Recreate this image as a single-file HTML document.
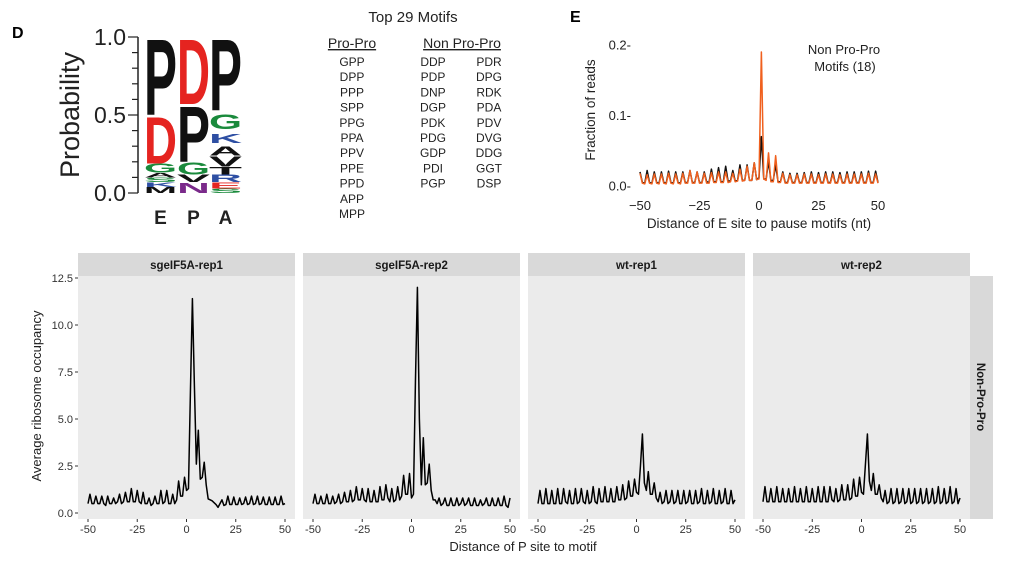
<!DOCTYPE html>
<html><head><meta charset="utf-8"><style>
body{margin:0;background:#fff}
svg{display:block;font-family:"Liberation Sans",sans-serif}
</style></head><body>
<svg id="fig" width="1016" height="569" viewBox="0 0 1016 569">
<text x="12" y="38" font-size="16" font-weight="bold">D</text>
<g id="logo"></g>
<g font-size="12" text-anchor="middle" fill="#222">
<text x="413" y="22" font-size="15">Top 29 Motifs</text>
<text x="352" y="48" font-size="14" text-decoration="underline">Pro-Pro</text>
<text x="462" y="48" font-size="14" text-decoration="underline">Non Pro-Pro</text>
<g id="motifs"></g>
</g>
<text x="570" y="22" font-size="16" font-weight="bold">E</text>
<g id="panelE"></g>
<g id="facets"></g>
</svg>
<script>
const NS='http://www.w3.org/2000/svg';
function mk(parent,tag,attrs,txt){const e=document.createElementNS(NS,tag);for(const k in attrs)e.setAttribute(k,attrs[k]);if(txt!==undefined)e.textContent=txt;parent.appendChild(e);return e;}

const xVals=[];for(let i=-50;i<=50;i++)xVals.push(i);
const facetNames=['sgeIF5A-rep1','sgeIF5A-rep2','wt-rep1','wt-rep2'];
const yTicks=[0,2.5,5,7.5,10,12.5];
const yTickLabels=['0.0','2.5','5.0','7.5','10.0','12.5'];
const xTicks=[-50,-25,0,25,50];
const rep1=[0.5,1.0,0.5,0.5,0.9,0.5,0.5,0.9,0.5,0.4,0.9,0.5,0.5,0.8,0.5,0.6,1.0,0.5,0.6,1.1,0.6,0.6,1.3,0.6,0.6,1.2,0.6,0.5,1.1,0.5,0.5,0.8,0.4,0.5,0.9,0.5,0.5,1.2,0.5,0.6,1.2,0.5,0.5,1.0,0.5,0.7,1.7,0.9,0.9,1.9,1.2,
1.3,6.5,11.4,6.8,2.6,4.4,1.8,1.9,2.7,1.5,0.75,0.7,0.65,0.55,0.45,0.3,0.5,0.7,0.4,0.45,0.9,0.45,0.45,0.85,0.45,0.45,0.8,0.45,0.5,0.85,0.45,0.5,0.9,0.45,0.5,0.9,0.45,0.5,0.85,0.45,0.45,0.85,0.45,0.45,0.85,0.45,0.45,0.9,0.45,0.5];
const rep2=[0.5,1.0,0.5,0.5,0.9,0.5,0.5,1.0,0.5,0.5,0.9,0.5,0.6,1.0,0.5,0.6,1.1,0.6,0.6,1.2,0.6,0.7,1.4,0.7,0.7,1.3,0.7,0.6,1.3,0.6,0.6,1.2,0.6,0.6,1.4,0.7,0.7,1.5,0.8,0.6,1.3,0.6,0.7,1.4,0.7,0.9,2.0,1.0,1.0,2.1,0.8,
1.0,7.0,12.0,5.0,1.5,4.0,1.5,1.6,2.6,1.2,0.7,0.7,0.5,0.8,0.4,0.5,0.8,0.4,0.4,0.8,0.4,0.4,0.8,0.4,0.5,0.8,0.4,0.5,0.8,0.4,0.4,0.8,0.4,0.4,0.7,0.4,0.5,0.8,0.4,0.4,0.8,0.4,0.4,0.8,0.4,0.4,0.9,0.4,0.3,0.8];
const wt1=[0.5,1.2,0.5,0.5,1.3,0.5,0.5,1.2,0.5,0.5,1.3,0.5,0.5,1.3,0.6,0.5,1.2,0.5,0.5,1.3,0.5,0.6,1.3,0.6,0.5,1.2,0.5,0.6,1.4,0.6,0.5,1.3,0.6,0.6,1.4,0.6,0.6,1.3,0.6,0.6,1.4,0.7,0.7,1.5,0.7,0.8,1.7,0.9,0.9,1.8,1.1,
1.0,2.5,4.2,1.6,1.2,2.2,1.0,1.0,1.6,0.8,0.6,1.1,0.5,0.6,1.2,0.5,0.6,1.2,0.5,0.6,1.2,0.5,0.5,1.2,0.5,0.6,1.2,0.5,0.5,1.2,0.5,0.6,1.3,0.5,0.5,1.2,0.5,0.6,1.3,0.5,0.5,1.2,0.5,0.6,1.3,0.5,0.5,1.2,0.5,0.7];
const wt2=[0.6,1.4,0.6,0.6,1.3,0.6,0.6,1.4,0.6,0.6,1.3,0.6,0.6,1.3,0.6,0.6,1.4,0.6,0.6,1.3,0.6,0.6,1.4,0.6,0.6,1.3,0.6,0.6,1.4,0.6,0.6,1.4,0.6,0.6,1.4,0.7,0.6,1.3,0.6,0.7,1.5,0.7,0.7,1.5,0.7,0.8,1.8,0.9,0.9,1.9,1.1,
1.0,2.6,4.2,1.7,1.2,2.1,1.0,1.0,1.5,0.8,0.6,1.2,0.5,0.6,1.3,0.5,0.6,1.3,0.5,0.6,1.3,0.5,0.6,1.3,0.5,0.6,1.3,0.5,0.6,1.3,0.5,0.6,1.3,0.5,0.6,1.3,0.5,0.6,1.4,0.5,0.6,1.3,0.5,0.6,1.4,0.5,0.6,1.3,0.5,0.8];
const facetSeries=[rep1,rep2,wt1,wt2];

const eTicksY=[0,0.1,0.2];
const eTickLabelsY=['0.0-','0.1-','0.2-'];
const eTicksX=[-50,-25,0,25,50];
const eBlack=[0.02,0.005,0.004,0.022,0.005,0.004,0.02,0.005,0.004,0.02,0.005,0.004,0.021,0.005,0.004,0.02,0.005,0.004,0.02,0.005,0.005,0.022,0.005,0.005,0.02,0.005,0.005,0.02,0.006,0.005,0.024,0.006,0.006,0.026,0.006,0.006,0.028,0.007,0.007,0.022,0.007,0.008,0.03,0.008,0.008,0.03,0.008,0.008,0.033,0.009,0.012,
0.07,0.01,0.01,0.035,0.008,0.008,0.03,0.006,0.006,0.02,0.005,0.005,0.018,0.005,0.005,0.018,0.005,0.005,0.019,0.005,0.005,0.02,0.005,0.005,0.019,0.005,0.005,0.02,0.005,0.005,0.02,0.005,0.005,0.019,0.005,0.005,0.02,0.005,0.005,0.02,0.005,0.005,0.02,0.005,0.005,0.021,0.005,0.005,0.021,0.005];
const eOrange=[0.018,0.004,0.003,0.016,0.004,0.003,0.017,0.004,0.003,0.017,0.004,0.003,0.018,0.004,0.003,0.017,0.004,0.003,0.018,0.004,0.004,0.022,0.004,0.004,0.02,0.004,0.004,0.018,0.004,0.004,0.019,0.005,0.005,0.02,0.005,0.005,0.02,0.005,0.006,0.018,0.006,0.007,0.024,0.007,0.008,0.028,0.008,0.008,0.033,0.009,0.01,
0.19,0.01,0.008,0.047,0.006,0.006,0.043,0.005,0.005,0.018,0.004,0.004,0.016,0.004,0.004,0.016,0.004,0.004,0.017,0.004,0.004,0.017,0.004,0.004,0.016,0.004,0.004,0.017,0.004,0.004,0.017,0.004,0.004,0.016,0.004,0.004,0.017,0.004,0.004,0.017,0.004,0.004,0.017,0.004,0.004,0.018,0.004,0.004,0.017,0.004];

const logoCols=['E','P','A'];
const logoE=[['P',0.5,1.0,'#111'],['D',0.19,0.5,'#e52420'],['G',0.13,0.19,'#1a8a3c'],['A',0.1,0.13,'#111'],['S',0.07,0.1,'#1a8a3c'],['K',0.04,0.07,'#2e4fa3'],['M',0.0,0.04,'#111']];
const logoP=[['D',0.57,1.0,'#e52420'],['P',0.2,0.57,'#111'],['G',0.12,0.2,'#1a8a3c'],['V',0.07,0.12,'#111'],['N',0.0,0.07,'#7a2a8a']];
const logoA=[['P',0.53,1.0,'#111'],['G',0.41,0.51,'#1a8a3c'],['K',0.32,0.38,'#2e4fa3'],['A',0.24,0.3,'#111'],['V',0.17,0.24,'#111'],['T',0.12,0.17,'#111'],['R',0.07,0.12,'#2e4fa3'],['E',0.03,0.07,'#e52420'],['S',0.0,0.03,'#1a8a3c']];
(function(){
  const g=document.getElementById('logo');
  const y0=193,y1=37; const ly=v=>y0+(y1-y0)*v;
  mk(g,'line',{x1:138,y1:37,x2:138,y2:193,stroke:'#222','stroke-width':1.5});
  for(let i=0;i<=10;i++){const yy=ly(i/10);mk(g,'line',{x1:i%5==0?128:132,y1:yy,x2:138,y2:yy,stroke:'#222','stroke-width':1.2});}
  [['0.0',0],['0.5',0.5],['1.0',1]].forEach(t=>{const e=mk(g,'text',{x:126,y:ly(t[1])+8,'font-size':23,'text-anchor':'end',fill:'#222'},t[0]);});
  const yt=mk(g,'text',{x:0,y:0,'font-size':27,'text-anchor':'middle',fill:'#222',transform:'translate(79,115) rotate(-90)'},'Probability');
  
  const stacks=[logoE,logoP,logoA]; const colX=[144,177,209]; const colW=33;
  stacks.forEach((st,ci)=>{
    st.forEach(l=>{
      const top=ly(l[2]),bot=ly(l[1]),h=bot-top;
      const t=mk(g,'text',{x:0,y:0,'font-size':100,'font-weight':'bold',fill:l[3],textLength:66,lengthAdjust:'spacingAndGlyphs',
        transform:`translate(${colX[ci]},${bot}) scale(${colW/66},${h/72})`},l[0]);
      
    });
    const c=mk(g,'text',{x:colX[ci]+colW/2,y:224,'font-size':19,'font-weight':'bold','text-anchor':'middle',fill:'#222'},logoCols[ci]);
    
  });
})();

const proPro=['GPP','DPP','PPP','SPP','PPG','PPA','PPV','PPE','PPD','APP','MPP'];
const nonPro1=['DDP','PDP','DNP','DGP','PDK','PDG','GDP','PDI','PGP'];
const nonPro2=['PDR','DPG','RDK','PDA','PDV','DVG','DDG','GGT','DSP'];
(function(){
  const g=document.getElementById('motifs');
  [[proPro,352],[nonPro1,433],[nonPro2,489]].forEach(c=>{
    c[0].forEach((m,i)=>{const t=mk(g,'text',{x:c[1],y:66+i*15.2},m);});
  });
})();

(function(){
  const g=document.getElementById('panelE');
  const sx=v=>640+(v+50)*(238/100); const sy=v=>186-v*705;
  eTicksY.forEach((v,i)=>{const t=mk(g,'text',{x:631,y:sy(v)+4.5,'font-size':13,'text-anchor':'end',fill:'#222'},eTickLabelsY[i]);});
  eTicksX.forEach(v=>{const t=mk(g,'text',{x:sx(v),y:210,'font-size':13,'text-anchor':'middle',fill:'#222'},v<0?'\u2212'+(-v):String(v));});
  const yt=mk(g,'text',{x:0,y:0,'font-size':13.5,'text-anchor':'middle',fill:'#222',transform:'translate(595,110) rotate(-90)'},'Fraction of  reads');
  
  const xt=mk(g,'text',{x:759,y:228,'font-size':13.5,'text-anchor':'middle',fill:'#222'},'Distance of E site to pause motifs (nt)');
  
  [[eBlack,'#111','e-line-black'],[eOrange,'#f0601e','e-line-orange']].forEach(s=>{
    const d=s[0].map((v,i)=>(i?'L':'M')+sx(xVals[i]).toFixed(2)+','+sy(v).toFixed(2)).join('');
    const p=mk(g,'path',{d:d,fill:'none',stroke:s[1],'stroke-width':1.5,'stroke-linejoin':'round'});
    
  });
  const l1=mk(g,'text',{x:844,y:54,'font-size':13,'text-anchor':'middle',fill:'#222'},'Non Pro-Pro');
  const l2=mk(g,'text',{x:845,y:71,'font-size':13,'text-anchor':'middle',fill:'#222'},'Motifs (18)');
})();

(function(){
  const g=document.getElementById('facets');
  const panelX=[78,303,528,753],pw=217,top=276,bot=519;
  const sy=v=>513-v*18.8;
  facetSeries.forEach((ser,fi)=>{
    const x0=panelX[fi];const sx=v=>x0+10+(v+50)*1.97;
    const bg=mk(g,'rect',{x:x0,y:top,width:pw,height:bot-top,fill:'#ebebeb'});
    const st=mk(g,'rect',{x:x0,y:253,width:pw,height:23,fill:'#d9d9d9'});
    const stt=mk(g,'text',{x:x0+pw/2,y:269,'font-size':11.5,'font-weight':'bold','text-anchor':'middle',fill:'#1a1a1a'},facetNames[fi]);
    
    xTicks.forEach(v=>{mk(g,'line',{x1:sx(v),y1:bot,x2:sx(v),y2:bot+3,stroke:'#333'});
      const t=mk(g,'text',{x:sx(v),y:bot+14,'font-size':11,'text-anchor':'middle',fill:'#333'},String(v));});
    const d=ser.map((v,i)=>(i?'L':'M')+sx(xVals[i]).toFixed(2)+','+sy(v).toFixed(2)).join('');
    const p=mk(g,'path',{d:d,fill:'none',stroke:'#000','stroke-width':1.5,'stroke-linejoin':'round'});
    
  });
  yTicks.forEach((v,i)=>{mk(g,'line',{x1:75,y1:sy(v),x2:78,y2:sy(v),stroke:'#333'});
    const t=mk(g,'text',{x:73,y:sy(v)+4,'font-size':11,'text-anchor':'end',fill:'#333'},yTickLabels[i]);});
  const rs=mk(g,'rect',{x:970,y:276,width:23,height:243,fill:'#d9d9d9'});
  const rt=mk(g,'text',{x:0,y:0,'font-size':11.5,'font-weight':'bold','text-anchor':'middle',fill:'#1a1a1a',transform:'translate(977,397) rotate(90)'},'Non-Pro-Pro');
  
  const yt=mk(g,'text',{x:0,y:0,'font-size':13,'text-anchor':'middle',fill:'#222',transform:'translate(41,396) rotate(-90)'},'Average ribosome occupancy');
  
  const xt=mk(g,'text',{x:523,y:551,'font-size':13,'text-anchor':'middle',fill:'#222'},'Distance of P site to motif');
  
})();
</script>
</body></html>
